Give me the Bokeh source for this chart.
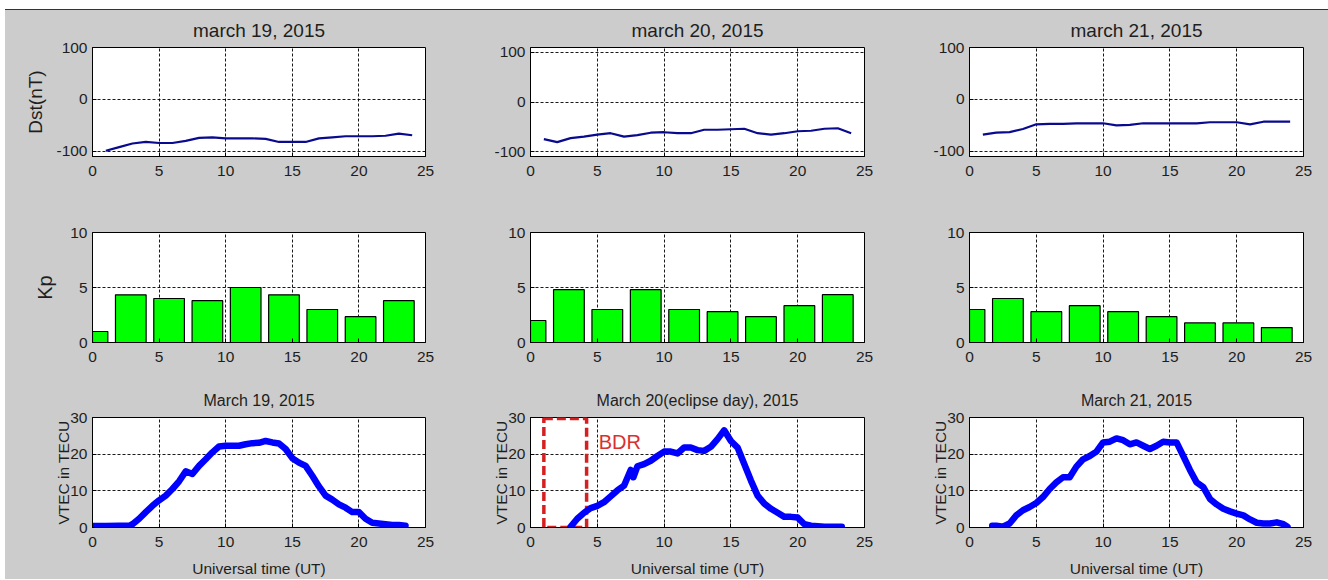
from bokeh.plotting import figure
from bokeh.layouts import row, column
from bokeh.models import Range1d, FixedTicker
from bokeh.core.properties import value
from bokeh.embed import file_html
from bokeh.resources import INLINE

# ---------------- data ----------------
x_ticks = [0, 5, 10, 15, 20, 25]
dst_ticks = [-100, 0, 100]
kp_ticks = [0, 5, 10]
vtec_ticks = [0, 10, 20, 30]

dst_titles = ["march 19, 2015", "march 20, 2015", "march 21, 2015"]
vtec_titles = ["March 19, 2015", "March 20(eclipse day), 2015", "March 21, 2015"]

dst_hours = list(range(1, 25))
dst_19 = [-99, -92, -85, -82, -84, -84, -80, -74, -73, -75, -75, -75,
          -76, -82, -82, -82, -75, -73, -71, -71, -71, -70, -66, -69]
dst_20 = [-75, -81, -73, -70, -66, -63, -70, -67, -62, -61, -63, -63,
          -56, -56, -55, -54, -63, -66, -63, -59, -58, -54, -53, -63]
dst_21 = [-68, -64, -63, -57, -48, -47, -47, -46, -46, -46, -50, -49,
          -46, -46, -46, -46, -46, -44, -44, -44, -48, -43, -43, -43]

kp_hours = [0, 2.875, 5.75, 8.625, 11.5, 14.375, 17.25, 20.125, 23]
kp_19 = [1.0, 4.33, 4.0, 3.8, 5.0, 4.33, 3.0, 2.35, 3.8]
kp_20 = [2.0, 4.8, 3.0, 4.8, 3.0, 2.8, 2.35, 3.35, 4.35]
kp_21 = [3.0, 4.0, 2.8, 3.35, 2.8, 2.35, 1.78, 1.78, 1.36]

t_19 = [0, 1, 2, 2.8, 3, 3.5, 4, 4.5, 5, 5.5, 6, 6.5, 7, 7.5, 8, 8.5, 9, 9.5, 10,
        10.5, 11, 11.5, 12, 12.5, 13, 13.5, 14, 14.5, 15, 15.5, 16, 16.5, 17,
        17.5, 18, 18.5, 19, 19.5, 20, 20.5, 21, 21.5, 22, 22.5, 23, 23.5]
vtec_19 = [0.4, 0.4, 0.5, 0.5, 0.9, 2.4, 4.2, 5.9, 7.4, 8.7, 10.5, 12.6, 15.3,
           14.6, 16.8, 18.6, 20.5, 22.1, 22.3, 22.3, 22.3, 22.7, 23.0, 23.1,
           23.6, 23.2, 22.9, 21.4, 18.9, 17.7, 16.8, 14.1, 11.2, 8.7, 7.6, 6.3,
           5.4, 4.2, 4.2, 2.4, 1.3, 1.1, 0.9, 0.7, 0.7, 0.5]

t_20 = [3, 3.5, 4, 4.5, 5, 5.5, 6, 6.5, 7, 7.5, 7.7, 8, 8.5, 9, 9.5, 10, 10.5,
        11, 11.5, 12, 12.5, 13, 13.5, 14, 14.5, 15, 15.5, 16, 16.5, 17, 17.5,
        18, 18.5, 19, 19.5, 20, 20.5, 21, 22, 23, 23.3]
vtec_20 = [0.2, 2.4, 4.0, 5.3, 5.9, 6.9, 8.5, 10.1, 11.4, 15.7, 13.7, 16.7,
           17.3, 18.2, 19.5, 20.7, 20.7, 20.2, 21.8, 21.8, 21.1, 20.9, 22.0,
           24.1, 26.5, 23.6, 21.8, 17.3, 12.8, 8.7, 6.5, 5.1, 4.0, 2.9, 2.9,
           2.7, 0.9, 0.5, 0.2, 0.2, 0.2]

t_21 = [1.7, 2, 2.5, 3, 3.5, 4, 4.5, 5, 5.5, 6, 6.5, 7, 7.5, 8, 8.5, 9, 9.5, 10,
        10.5, 11, 11.5, 12, 12.5, 13, 13.5, 14, 14.5, 15, 15.5, 16, 16.5, 17,
        17.5, 18, 18.5, 19, 19.5, 20, 20.5, 21, 21.5, 22, 22.5, 23, 23.5, 23.8]
vtec_21 = [0.5, 0.5, 0.2, 1.1, 3.3, 4.7, 5.6, 6.7, 8.3, 10.5, 12.3, 13.7, 13.7,
           16.6, 18.6, 19.5, 20.7, 23.2, 23.4, 24.3, 23.8, 22.7, 23.2, 22.3,
           21.4, 22.3, 23.4, 23.2, 23.2, 19.5, 15.7, 12.3, 11.0, 7.8, 6.3, 5.1,
           4.4, 3.8, 3.3, 2.2, 1.3, 1.1, 1.1, 1.4, 0.9, 0.2]

bdr_left, bdr_right = [1.0], [4.2]
bdr_bottom, bdr_top = [0.0], [29.7]
bdr_text_x, bdr_text_y, bdr_text = [5.1], [23.2], ["BDR"]

# ---------------- style ----------------
GRAY = "#cccccc"
TXT = "#1e1e1e"
FONT = "Liberation Sans"

col_w = [435, 438, 450]
col_bl = [87, 90, 91]
col_br = [15, 14, 25]


def make_fig(ci, height, bt, bb, yr, yticks, title=None, title_size="19px",
             title_standoff=10, ylabel=None, ylabel_size="19px",
             ylabel_standoff=6, xlabel=None):
    p = figure(width=col_w[ci], height=height,
               x_range=Range1d(0, 25), y_range=Range1d(*yr),
               output_backend="svg", toolbar_location=None,
               min_border_left=col_bl[ci], min_border_right=col_br[ci],
               min_border_top=bt, min_border_bottom=bb,
               background_fill_color="white", border_fill_color=GRAY,
               outline_line_color="black", outline_line_width=1,
               title=title)
    if title is not None:
        p.title.align = "center"
        p.title.text_font = FONT
        p.title.text_font_size = title_size
        p.title.text_font_style = "normal"
        p.title.text_color = TXT
        p.title.standoff = title_standoff
    p.xaxis.ticker = FixedTicker(ticks=x_ticks)
    p.yaxis.ticker = FixedTicker(ticks=yticks)
    p.yaxis.major_label_overrides = {v: str(v) for v in yticks}
    for ax in (p.xaxis[0], p.yaxis[0]):
        ax.axis_line_color = "black"
        ax.major_tick_in = 4
        ax.major_tick_out = 0
        ax.major_tick_line_color = "black"
        ax.minor_tick_line_color = None
        ax.major_label_text_font = FONT
        ax.major_label_text_font_size = "15.5px"
        ax.major_label_text_color = TXT
        ax.major_label_standoff = 5
        ax.axis_label_text_font = FONT
        ax.axis_label_text_font_style = "normal"
        ax.axis_label_text_color = TXT
    p.xaxis.major_label_standoff = 9
    if ylabel:
        p.yaxis.axis_label = ylabel
        p.yaxis.axis_label_text_font_size = ylabel_size
        p.yaxis.axis_label_standoff = ylabel_standoff
    if xlabel:
        p.xaxis.axis_label = xlabel
        p.xaxis.axis_label_text_font_size = "15.5px"
        p.xaxis.axis_label_standoff = 10
    for g in (p.xgrid[0], p.ygrid[0]):
        g.grid_line_color = "black"
        g.grid_line_dash = "3 2"
        g.grid_line_width = 1
        g.grid_line_alpha = 0.9
    return p


# Row 1: Dst
dst_data = [dst_19, dst_20, dst_21]
dst_ranges = [(-110, 100), (-110, 110), (-110, 100)]
row1 = []
for i in range(3):
    p = make_fig(i, 180, 36, 34, dst_ranges[i], dst_ticks, title=dst_titles[i],
                 title_size="19px", title_standoff=14,
                 ylabel="Dst(nT)" if i == 0 else None, ylabel_size="19px",
                 ylabel_standoff=7)
    p.line(dst_hours, dst_data[i], line_color="#0a0a8f", line_width=2.2)
    row1.append(p)

# Row 2: Kp
kp_data = [kp_19, kp_20, kp_21]
row2 = []
for i in range(3):
    p = make_fig(i, 180, 42, 28, (0, 10), kp_ticks,
                 ylabel="Kp" if i == 0 else None, ylabel_size="20px",
                 ylabel_standoff=11)
    p.vbar(x=kp_hours, top=kp_data[i], bottom=0, width=2.3,
           fill_color="#00ff00", line_color="black", line_width=1.2)
    row2.append(p)

# Row 3: VTEC
vt = [(t_19, vtec_19), (t_20, vtec_20), (t_21, vtec_21)]
row3 = []
for i in range(3):
    p = make_fig(i, 209, 47, 51, (0, 30), vtec_ticks, title=vtec_titles[i],
                 title_size="16px", title_standoff=18,
                 ylabel="VTEC in TECU", ylabel_size="15.5px",
                 ylabel_standoff=-5, xlabel="Universal time (UT)")
    if i == 1:
        p.quad(left=bdr_left, right=bdr_right, bottom=bdr_bottom, top=bdr_top,
               fill_alpha=0, line_color="#d42020", line_width=3.5,
               line_dash="9 4")
        p.text(x=bdr_text_x, y=bdr_text_y, text=bdr_text,
               text_font=value(FONT), text_font_size="20px",
               text_color="#d93030", text_align="left",
               text_baseline="alphabetic")
    p.line(vt[i][0], vt[i][1], line_color="#0000ff", line_width=6.5,
           line_join="round", line_cap="round")
    row3.append(p)

layout = column(row(*row1), row(*row2), row(*row3),
                styles={"margin-top": "9px", "margin-left": "5px",
                        "border-top": "1px solid #333333",
                        "background-color": GRAY})

open("out.html", "w").write(file_html(layout, INLINE))
